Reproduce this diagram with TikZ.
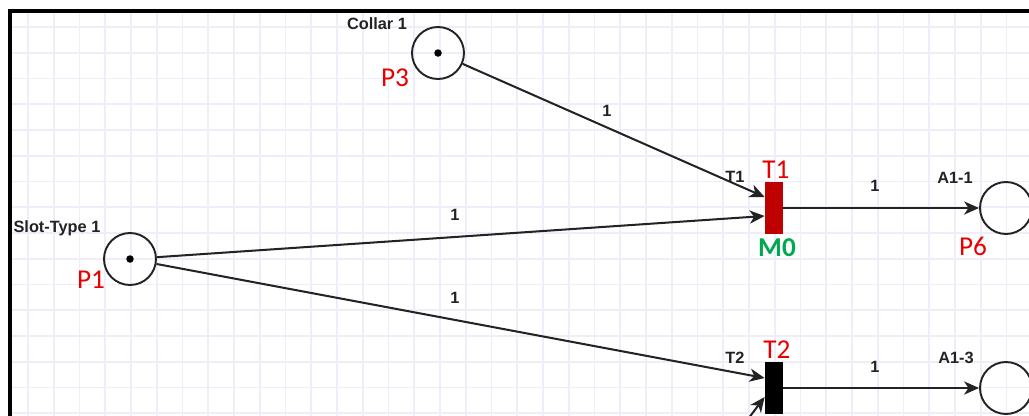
\documentclass[tikz,border=0pt]{standalone}
\usepackage{fontspec}
\setmainfont{Liberation Sans}
\newfontfamily\calib{Carlito}
\usetikzlibrary{calc,arrows.meta,positioning,math}

\definecolor{gridcol}{RGB}{238,238,251}
\definecolor{offred}{RGB}{232,0,0}
\definecolor{darkred}{RGB}{190,0,0}
\definecolor{offgreen}{RGB}{0,168,80}
\definecolor{inkgray}{RGB}{35,35,35}

\begin{document}
\begin{tikzpicture}[x=0.02cm, y=-0.02cm,
 place/.style={circle, draw=inkgray, line width=1.1pt, minimum size=1.04cm, inner sep=0pt},
 trans/.style={rectangle, fill=black, minimum width=0.36cm, minimum height=1.04cm, inner sep=0pt},
 arc/.style={line width=1.15pt, draw=inkgray, -{Stealth[length=8.5pt, width=7.5pt, inset=2.5pt]}},
 lbl/.style={font=\bfseries\fontsize{9.3}{11}\selectfont, text=inkgray, inner sep=0pt},
 tag/.style={font=\calib\fontsize{15.5}{18}\selectfont, text=offred, inner sep=0pt}]

 \useasboundingbox (0,0) rectangle (1029,416);
 \clip (0,0) rectangle (1029,416);
 \fill[white] (0,0) rectangle (1029,416);

 \tikzmath{
    \gs = 25.75;
 }
% grid of the editor
 \foreach \gx in {0,...,39}
   \draw[gridcol, line width=0.9pt] ({28+\gs*\gx},12) -- ({28+\gs*\gx},416);
 \foreach \gy in {0,...,15}
   \draw[gridcol, line width=0.9pt] (12,{27+\gs*\gy}) -- (1029,{27+\gs*\gy});

 \draw[line width=2.3pt] (1040,11.3) -- (10.3,11.3) -- (10.3,430);

 % places
 \node[place] (p3) at (438,53) {};
 \node[place] (p1) at (130,259) {};
 \node[place] (p6) at (1006,208) {};
 \node[place] (a13) at (1006,388) {};
 \fill (p3) circle (0.075cm);
 \fill (p1) circle (0.075cm);

 % transitions
 \node[trans, fill=darkred] (t1) at (774,208) {};
 \node[trans] (t2) at (774,388) {};
 \coordinate (src) at (727,447);

 \draw[arc] (p3) -- ($(t1.west)+(0,-11)$);
 \draw[arc] (p1) -- ($(t1.west)+(0,8)$);
 \draw[arc] (p1) -- ($(t2.west)+(0,-10)$);
 \draw[arc] (t1) -- (p6);
 \draw[arc] (t2) -- (a13);
 \draw[arc] (src) -- ($(t2.west)+(0,9)$);

 % labels
 \node[lbl] (collar) at (377,24) {Collar 1};
 \node[lbl] (slot) at (57,228) {Slot-Type 1};
 \node[lbl] (w31) at (607,111) {1};
 \node[lbl] (w11) at (455,215) {1};
 \node[lbl] (w12) at (455,298) {1};
 \node[lbl] (w16) at (875,186) {1};
 \node[lbl] (w2) at (875,367) {1};
 \node[lbl] (t1name) at (735,177) {T1};
 \node[lbl] (t2name) at (735,358) {T2};
 \node[lbl] (a11) at (955,178) {A1-1};
 \node[lbl] (a13name) at (956,358) {A1-3};

 \node[tag] (p3tag) at (395,78) {P3};
 \node[tag] (p1tag) at (91,280) {P1};
 \node[tag] (p6tag) at (973,246) {P6};
 \node[tag] (t1tag) at (776,170) {T1};
 \node[tag] (t2tag) at (777,350) {T2};
 \node[tag, text=offgreen, font=\calib\bfseries\fontsize{15.5}{18}\selectfont] (m0) at (777,248) {M0};

\end{tikzpicture}
\end{document}
